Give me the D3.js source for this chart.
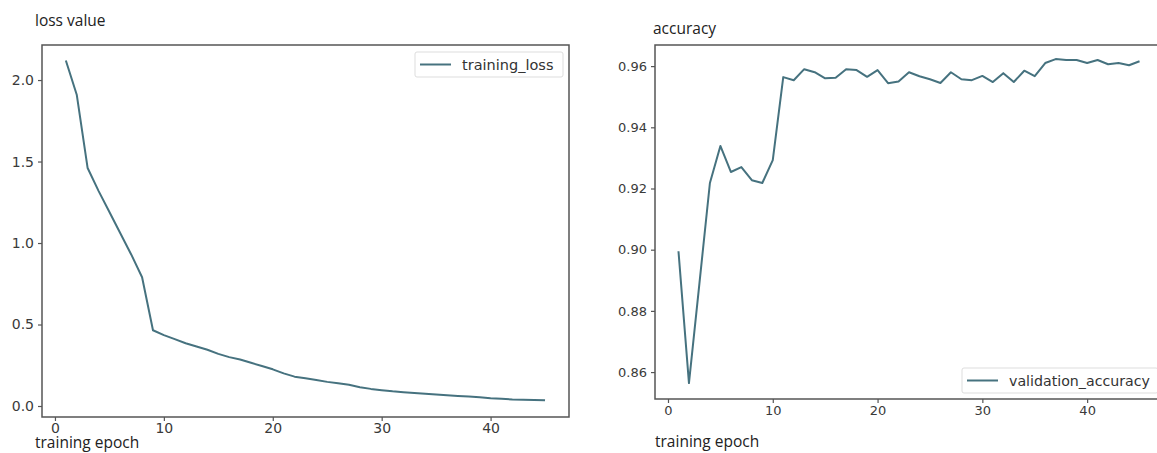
<!DOCTYPE html>
<html>
<head>
<meta charset="utf-8">
<script src="https://cdn.jsdelivr.net/npm/d3@7"></script>
<style>
  body { margin: 0; background: #fff; }
  svg { display: block; }
  .tick text { font-family: "DejaVu Sans", sans-serif; fill: #3a3a3a; }
  .tick line { stroke: #555; stroke-width: 1.2; }
  .title { font-family: "Open Sans", sans-serif; font-size: 15.5px; fill: #222; }
  .legend text { font-family: "DejaVu Sans", sans-serif; fill: #333; }
</style>
</head>
<body>
<svg id="chart" width="1157" height="453"></svg>
<script>
// epochs 1..45
const epochs = d3.range(1, 46);

const trainingLoss = [
  2.12, 1.91, 1.46, 1.32, 1.19, 1.06, 0.93, 0.79, 0.465, 0.435,
  0.41, 0.385, 0.365, 0.345, 0.32, 0.30, 0.285, 0.265, 0.245, 0.225,
  0.20, 0.18, 0.17, 0.16, 0.148, 0.14, 0.13, 0.115, 0.105, 0.097,
  0.09, 0.085, 0.08, 0.075, 0.07, 0.066, 0.062, 0.058, 0.054, 0.048,
  0.044, 0.04, 0.038, 0.037, 0.036
];

const validationAccuracy = [
  0.8995, 0.8564, 0.889, 0.9218, 0.9339, 0.9254, 0.927, 0.9227, 0.9218, 0.9293,
  0.9564, 0.9554, 0.959, 0.958, 0.956, 0.9562, 0.959, 0.9587, 0.9565, 0.9587,
  0.9544, 0.955, 0.958, 0.9567, 0.9557, 0.9545, 0.958, 0.9557, 0.9554, 0.9568,
  0.9548, 0.9577, 0.9548, 0.9585, 0.9567, 0.961, 0.9623, 0.962, 0.962, 0.961,
  0.962, 0.9606, 0.961, 0.9603, 0.9616
];

const lossTicks = [0, 0.5, 1.0, 1.5, 2.0];
const accTicks = [0.86, 0.88, 0.90, 0.92, 0.94, 0.96];
const epochTicks = [0, 10, 20, 30, 40];

const lineColor = "#46727f";
const svg = d3.select("#chart");

function drawPanel(opt) {
  const g = svg.append("g");
  const x = d3.scaleLinear().domain(opt.xDomain).range([opt.left, opt.right]);
  const y = d3.scaleLinear().domain(opt.yDomain).range([opt.bottom, opt.top]);

  // axes frame
  g.append("rect")
    .attr("x", opt.left).attr("y", opt.top)
    .attr("width", opt.right - opt.left).attr("height", opt.bottom - opt.top)
    .attr("fill", "none").attr("stroke", "#555").attr("stroke-width", 1.5);

  const xa = g.append("g")
    .attr("transform", "translate(0," + opt.bottom + ")")
    .call(d3.axisBottom(x).tickValues(epochTicks).tickFormat(d3.format("d")).tickSize(4).tickPadding(opt.xPad));
  xa.select(".domain").remove();

  const ya = g.append("g")
    .attr("transform", "translate(" + opt.left + ",0)")
    .call(d3.axisLeft(y).tickValues(opt.yTicks).tickFormat(opt.yFormat).tickSize(4).tickPadding(4));
  ya.select(".domain").remove();

  g.selectAll(".tick text").style("font-size", opt.tickSize + "px");

  const line = d3.line()
    .x((d, i) => x(epochs[i]))
    .y(d => y(d));

  g.append("path")
    .datum(opt.values)
    .attr("fill", "none")
    .attr("stroke", lineColor)
    .attr("stroke-width", 2)
    .attr("stroke-linejoin", "round")
    .attr("d", line);

  g.append("text").attr("class", "title")
    .attr("x", opt.titleX).attr("y", opt.titleY).text(opt.title);
  g.append("text").attr("class", "title")
    .attr("x", opt.xLabelX).attr("y", opt.xLabelY).text("training epoch");

  // legend
  const lg = g.append("g").attr("class", "legend");
  lg.append("rect")
    .attr("x", opt.legend.x).attr("y", opt.legend.y)
    .attr("width", opt.legend.w).attr("height", 25).attr("rx", 2)
    .attr("fill", "#fff").attr("stroke", "#ddd");
  lg.append("line")
    .attr("x1", opt.legend.x + 5).attr("x2", opt.legend.x + 36)
    .attr("y1", opt.legend.y + 12.5).attr("y2", opt.legend.y + 12.5)
    .attr("stroke", lineColor).attr("stroke-width", 2);
  lg.append("text")
    .attr("x", opt.legend.x + 47).attr("y", opt.legend.y + 17.5)
    .style("font-size", opt.legend.size + "px")
    .text(opt.legend.label);
}

drawPanel({
  left: 42, right: 569, top: 45, bottom: 417,
  xDomain: [-1.19, 47.2], yDomain: [-0.0675, 2.215],
  yTicks: lossTicks, yFormat: d3.format(".1f"), tickSize: 14, xPad: 2,
  values: trainingLoss,
  title: "loss value", titleX: 35, titleY: 26,
  xLabelX: 35, xLabelY: 448,
  legend: { x: 415, y: 52, w: 148, label: "training_loss", size: 14.5 }
});

drawPanel({
  left: 655, right: 1163, top: 45, bottom: 399,
  xDomain: [-1.24, 47.24], yDomain: [0.8512, 0.9669],
  yTicks: accTicks, yFormat: d3.format(".2f"), tickSize: 13, xPad: 3,
  values: validationAccuracy,
  title: "accuracy", titleX: 653, titleY: 34,
  xLabelX: 655, xLabelY: 447,
  legend: { x: 962, y: 368, w: 196, label: "validation_accuracy", size: 14.2 }
});
</script>
</body>
</html>
